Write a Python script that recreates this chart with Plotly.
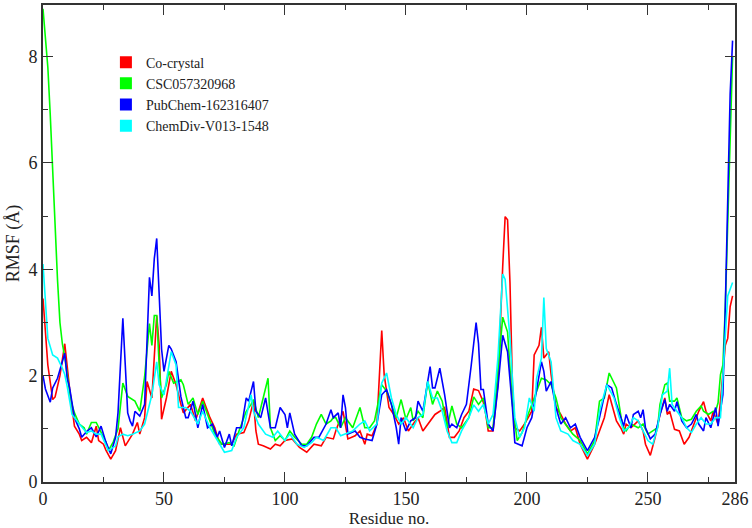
import plotly.graph_objects as go

# ---------------- data ----------------
red_x = [0,2,4,5,7,9,11,13,15,16,18,20,22,23,25,26,28,30,32,34,37,39,40,42,43,45,47,48,49,51,53,55,57,58,61,63,66,69,71,73,76,78,80,83,85,87,88,89,91,94,96,98,100,103,106,109,112,115,117,120,121,124,126,129,131,133,134,136,138,140,141,143,145,147,149,151,153,155,157,160,162,164,166,168,170,172,174,176,178,180,182,183,184,186,188,190,191,192,193,194,195,197,199,202,203,205,206,207,209,210,212,214,216,218,220,222,225,228,230,232,234,237,239,240,241,243,246,248,249,251,253,255,257,258,259,261,263,265,267,270,271,273,274,276,277,279,280,282,283,284,285]
red_y = [3.45,2.2,1.55,1.6,2.0,2.6,1.75,1.05,0.9,0.78,0.84,0.74,1.05,0.78,0.71,0.6,0.43,0.59,1.02,0.68,0.9,1.12,0.9,1.21,1.89,1.58,3.13,2.57,1.18,1.58,2.08,1.83,1.46,1.3,1.46,1.15,1.58,1.21,1.02,0.71,0.71,0.71,0.9,0.93,1.15,1.52,0.96,0.71,0.68,0.62,0.71,0.68,0.78,0.81,0.65,0.56,0.71,0.68,0.84,0.81,0.96,1.33,0.81,0.87,0.96,0.71,0.9,0.87,1.09,2.85,2.02,1.4,1.27,1.09,1.21,0.96,1.09,1.21,0.96,1.15,1.27,1.33,1.4,0.84,0.84,0.96,1.21,1.33,1.75,1.72,1.5,1.27,0.96,0.96,1.83,4.06,4.99,4.93,3.75,1.83,1.02,0.96,1.09,1.33,2.39,2.57,2.91,2.33,2.45,2.02,1.4,1.27,1.09,0.96,1.02,0.71,0.43,0.71,0.96,1.21,1.64,1.15,1.0,0.9,1.09,1.02,1.15,0.96,0.71,0.5,0.84,1.27,1.58,1.27,1.33,0.99,0.96,0.71,0.84,1.21,1.33,1.51,1.33,1.15,1.33,1.09,1.52,2.57,2.7,3.3,3.5]

green_x = [0,1,2,3,4,5,6,7,8,9,10,11,12,13,15,17,18,20,22,24,26,27,29,31,33,35,38,40,42,44,45,46,47,48,49,50,51,52,54,57,58,60,62,64,66,69,71,74,77,79,81,84,86,87,89,91,93,94,96,98,100,102,104,107,109,111,113,115,117,119,120,121,123,125,128,131,133,135,137,140,142,144,146,148,150,152,153,155,157,159,161,163,165,167,169,171,173,176,178,180,182,184,186,188,190,192,194,196,198,200,203,206,208,210,212,214,217,219,222,225,228,230,232,234,237,239,240,241,243,246,248,250,252,254,255,257,258,259,261,262,264,266,268,270,272,273,275,277,278,279,280,281,282,283,284,285]
green_y = [8.9,8.4,7.8,6.9,5.8,4.6,3.8,3.0,2.6,2.35,2.0,1.7,1.45,1.3,1.09,1.02,0.9,1.12,1.12,0.93,0.75,0.59,0.75,1.0,1.86,1.61,1.52,1.33,1.98,2.98,2.57,3.13,3.13,2.2,1.58,1.71,1.83,2.08,1.86,1.92,1.83,1.46,1.58,1.27,1.52,1.15,0.9,0.71,0.74,0.68,0.96,1.33,1.46,1.55,1.21,1.58,1.95,1.02,0.78,0.87,0.78,0.96,0.84,0.71,0.71,0.84,1.09,1.27,1.09,1.15,1.21,1.21,1.02,1.21,1.02,1.4,1.02,1.02,1.15,1.83,1.71,1.46,1.21,1.55,1.18,1.4,1.15,1.33,1.21,1.89,1.46,1.71,1.52,1.02,1.43,1.09,1.02,1.21,1.6,1.46,1.58,1.02,1.02,2.08,3.1,2.82,1.46,0.78,0.93,1.21,1.58,1.95,1.92,1.83,1.58,1.21,1.02,0.9,0.78,0.53,0.78,1.52,1.58,2.05,1.77,1.2,1.02,0.96,1.09,1.02,1.09,0.9,0.96,1.02,1.46,1.83,1.86,1.52,1.52,1.58,1.21,1.15,1.18,1.33,1.43,1.33,1.27,1.33,1.33,1.49,2.02,2.2,3.3,5.0,6.8,8.0]

blue_x = [0,1,3,4,6,9,10,11,13,15,16,18,20,22,24,26,28,30,31,33,34,35,36,37,38,40,42,43,44,45,46,47,48,49,50,52,53,55,57,59,60,62,64,66,68,70,72,73,75,77,78,80,82,84,85,87,88,90,92,94,96,98,100,101,102,104,107,109,112,114,117,119,120,122,123,124,125,126,129,131,133,136,138,140,142,144,146,147,148,150,152,154,155,157,160,161,162,164,166,168,169,171,173,175,177,179,180,181,182,184,186,188,190,192,194,195,198,200,202,204,206,207,208,210,212,214,216,218,220,222,225,228,230,233,235,237,240,241,243,244,246,247,248,249,251,253,255,257,258,259,261,262,264,266,268,270,271,273,274,276,278,279,281,282,283,284,285]
blue_y = [2.0,1.75,1.5,1.77,1.95,2.42,1.95,1.77,1.21,1.0,0.84,0.95,1.02,0.85,1.05,0.75,0.53,0.84,1.3,3.08,2.2,1.3,1.15,1.05,1.33,1.24,1.46,2.5,3.85,3.5,4.2,4.58,3.5,2.5,2.08,2.57,2.5,2.26,1.6,1.21,1.21,1.52,1.02,1.46,1.02,1.09,0.84,0.96,0.65,0.9,0.68,1.02,1.02,1.58,1.52,1.89,1.33,1.21,1.58,1.02,1.02,1.4,1.27,1.02,1.3,0.9,0.68,0.68,0.84,0.84,1.09,1.36,1.21,1.3,1.02,1.64,1.4,0.9,0.96,0.84,0.81,0.78,1.09,1.64,1.74,1.46,1.02,0.71,1.21,0.96,1.15,1.21,1.52,1.33,2.17,1.77,1.77,2.14,1.64,1.02,1.09,1.02,1.27,1.46,2.2,3.0,2.6,1.74,1.74,1.09,0.96,1.77,2.76,2.45,1.4,0.74,0.68,1.02,1.21,1.71,2.26,2.08,1.71,1.89,1.4,1.09,1.21,1.02,1.09,0.84,0.59,0.84,1.21,1.83,1.77,1.46,1.05,1.27,1.02,1.27,1.33,1.21,1.36,1.02,0.81,0.9,1.27,1.55,1.33,1.46,1.33,1.51,1.15,1.02,1.09,1.27,1.09,0.96,1.21,1.02,1.4,1.05,1.64,3.3,5.3,7.3,8.3]

cyan_x = [0,1,2,4,6,8,9,10,12,15,18,20,22,24,26,27,30,31,33,35,37,40,42,45,47,48,50,53,55,56,59,61,64,66,69,72,75,78,80,83,86,87,89,92,95,97,100,102,105,108,111,113,116,119,121,123,126,128,131,133,135,138,140,142,144,146,148,150,153,155,157,159,161,163,165,167,169,171,173,176,178,180,182,184,186,188,190,191,193,195,197,199,201,203,204,206,207,208,210,212,214,217,219,222,225,228,230,233,236,238,240,242,244,246,248,250,252,254,256,258,259,260,262,264,266,268,270,272,274,276,278,280,282,283,285]
cyan_y = [4.1,3.3,2.7,2.39,2.33,2.14,2.02,1.8,1.27,1.09,0.93,0.96,0.9,0.9,0.7,0.59,0.68,0.85,0.9,0.87,0.9,0.96,1.09,1.64,2.26,1.83,1.64,2.45,2.2,1.4,1.4,1.33,1.09,1.33,1.02,0.78,0.56,0.59,0.84,1.02,1.64,1.33,1.09,0.9,0.84,0.96,0.78,0.9,0.71,0.65,0.74,0.84,0.78,1.02,1.02,0.87,0.93,0.96,1.09,1.15,0.96,1.09,1.86,2.05,1.58,1.27,1.09,1.21,1.02,1.21,1.27,1.89,1.58,1.58,1.33,0.96,0.74,0.74,0.96,1.21,1.45,1.33,1.46,1.09,1.27,2.33,3.91,3.81,2.7,1.21,0.84,1.02,1.58,1.33,1.95,2.33,3.47,2.51,2.26,1.21,0.96,0.9,0.78,0.71,0.5,0.71,1.33,1.83,1.58,1.24,0.96,1.02,1.21,1.15,0.96,0.78,0.71,1.02,1.64,1.71,2.14,1.46,1.33,1.21,1.02,0.93,1.09,1.21,1.09,1.09,1.21,1.21,2.76,3.5,3.75]

series_names = ["Co-crystal", "CSC057320968", "PubChem-162316407", "ChemDiv-V013-1548"]
series_colors = ["#ff0000", "#00ff00", "#0000ff", "#00ffff"]

x_tickvals = [0, 50, 100, 150, 200, 250, 286]
x_minor = [25, 75, 125, 175, 225, 275]
y_tickvals = [0, 2, 4, 6, 8]
y_minor = [1, 3, 5, 7]

FONT = "Liberation Serif, Times New Roman, serif"

fig = go.Figure()
for xs, ys, name, col in zip([red_x, green_x, blue_x, cyan_x],
                             [red_y, green_y, blue_y, cyan_y],
                             series_names, series_colors):
    fig.add_trace(go.Scatter(x=xs, y=ys, mode="lines", name=name,
                             line=dict(color=col, width=1.6),
                             showlegend=False))
# legend entries (square swatches)
for name, col in zip(series_names, series_colors):
    fig.add_trace(go.Scatter(x=[None], y=[None], mode="markers", name=name,
                             marker=dict(symbol="square", size=12, color=col),
                             showlegend=True))

axis_common = dict(
    showline=True, linecolor="#333333", linewidth=1.6, mirror="allticks",
    ticks="inside", ticklen=10, tickwidth=1.3, tickcolor="#333333",
    showgrid=False, zeroline=False,
    tickfont=dict(family=FONT, size=18, color="#222222"),
)

fig.update_xaxes(range=[0, 286], tickmode="array", tickvals=x_tickvals,
                 ticktext=[str(v) for v in x_tickvals],
                 minor=dict(tickmode="array", tickvals=x_minor, ticks="inside",
                            ticklen=5, tickwidth=1.3, tickcolor="#333333", showgrid=False),
                 title=dict(text="Residue no.", font=dict(family=FONT, size=17, color="#222222"),
                            standoff=4),
                 **axis_common)
fig.update_yaxes(range=[0, 8.97], tickmode="array", tickvals=y_tickvals,
                 ticktext=[str(v) for v in y_tickvals],
                 minor=dict(tickmode="array", tickvals=y_minor, ticks="inside",
                            ticklen=5, tickwidth=1.3, tickcolor="#333333", showgrid=False),
                 title=dict(text="RMSF (Å)", font=dict(family=FONT, size=18, color="#222222"),
                            standoff=4),
                 **axis_common)

fig.update_layout(
    width=752, height=528,
    margin=dict(l=43, r=16, t=3, b=43),
    paper_bgcolor="white", plot_bgcolor="white",
    font=dict(family=FONT, size=14, color="#222222"),
    legend=dict(x=(106 - 43) / 693, y=1 - (45 - 3) / 482, xanchor="left", yanchor="top",
                bgcolor="rgba(0,0,0,0)", borderwidth=0,
                font=dict(family=FONT, size=14, color="#222222"),
                tracegroupgap=0),
)

fig.write_html("out.html")
